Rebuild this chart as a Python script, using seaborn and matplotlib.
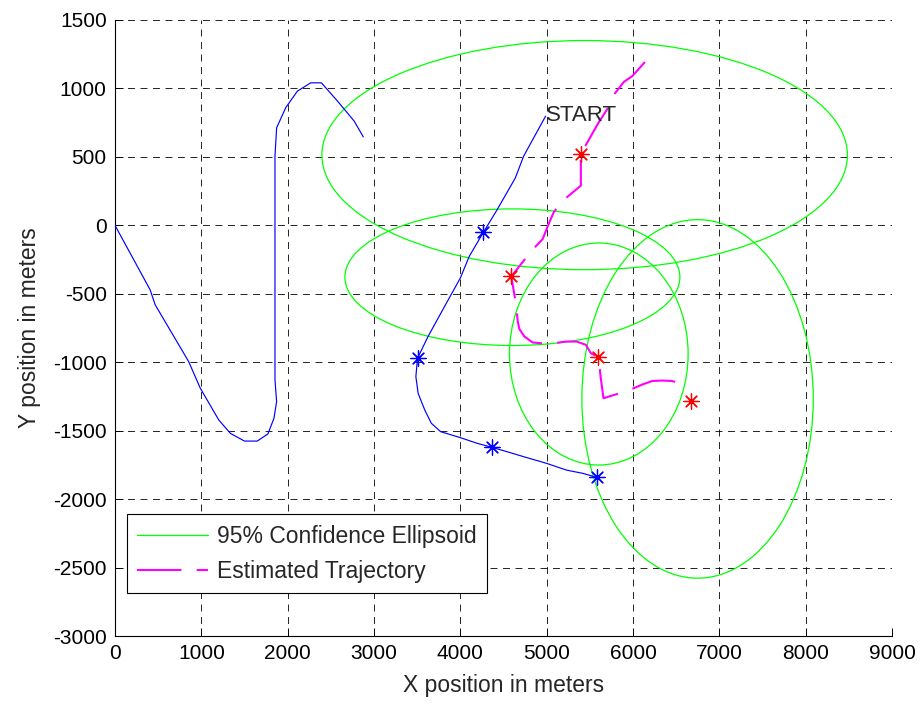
import matplotlib
matplotlib.use("Agg")
import matplotlib.pyplot as plt
import seaborn as sns
from matplotlib.patches import Ellipse
from matplotlib.lines import Line2D

# Observer track (m)
obs_x = [0, 407, 465, 853, 988, 1202, 1337, 1500, 1647, 1771, 1841, 1872,
         1853, 1853, 1872, 1977, 2112, 2267, 2391, 2578, 2771, 2876]
obs_y = [0, -471, -580, -995, -1190, -1422, -1520, -1576, -1576, -1524, -1410,
         -1288, -1129, 505, 712, 859, 980, 1041, 1041, 907, 761, 646]

# True target track (m), starting at START
tgt_x = [4988, 4733, 4637, 4427, 4267, 4103, 4000, 3817, 3626, 3504, 3485,
         3511, 3588, 3664, 3771, 4000, 4198, 4370, 4542, 4733, 5000, 5229,
         5420, 5580]
tgt_y = [798, 505, 346, 115, -51, -227, -385, -593, -812, -971, -1105, -1227,
         -1349, -1446, -1507, -1551, -1593, -1622, -1654, -1690, -1739, -1788,
         -1812, -1841]
# True positions at the fix times
tgt_fix_x = [4267, 3504, 4370, 5580]
tgt_fix_y = [-51, -971, -1622, -1841]

# Estimated target track (m)
est_x = [6138, 5992, 5896, 5781, 5704, 5600, 5435, 5393, 5396, 5396, 5192,
         5081, 5012, 4954, 4819, 4704, 4590, 4646, 4665, 4685, 4742, 4838,
         5031, 5223, 5346, 5454, 5512, 5600, 5627, 5658, 5946, 6115, 6223,
         6338, 6446, 6569, 6588]
est_y = [1193, 1090, 1049, 956, 851, 749, 566, 524, 456, 290, 183, 95, -7,
         -100, -190, -283, -373, -580, -702, -759, -812, -856, -866, -849,
         -849, -873, -934, -963, -1117, -1263, -1207, -1161, -1137, -1134,
         -1137, -1154, -1198]
# Estimated positions at the fix times
est_fix_x = [5393, 4590, 5600, 6673]
est_fix_y = [524, -373, -963, -1280]

# 95% confidence ellipses: centre and full axis lengths (m)
ell_cx = [5440, 4603, 5604, 6748]
ell_cy = [513, -379, -940, -1268]
ell_w = [6087, 3880, 2069, 2680]
ell_h = [1674, 998, 1622, 2619]

x_ticks = list(range(0, 9001, 1000))
y_ticks = list(range(-3000, 1501, 500))

sns.set_style("ticks")
plt.rcParams["font.family"] = ["Liberation Sans", "DejaVu Sans"]
plt.rcParams["axes.unicode_minus"] = False
plt.rcParams["lines.scale_dashes"] = False

W, H = 924, 705
fig = plt.figure(figsize=(W / 100, H / 100), dpi=100)
fig.patch.set_facecolor("white")
ax = fig.add_axes([115 / W, 1 - 636 / H, 777 / W, 616 / H])
ax.set_facecolor("white")

green = (0, 1, 0)
magenta = (1, 0, 1)
traj_dash = (32, 11)

for cx, cy, w, h in zip(ell_cx, ell_cy, ell_w, ell_h):
    ax.add_patch(Ellipse((cx, cy), w, h, fill=False, edgecolor=green,
                         linewidth=0.9, zorder=3))

sns.lineplot(x=est_x, y=est_y, sort=False, estimator=None, color=magenta,
             linewidth=1.5, ax=ax, zorder=4)
ax.lines[-1].set_dashes(traj_dash)

sns.lineplot(x=obs_x, y=obs_y, sort=False, estimator=None, color="blue",
             linewidth=0.85, ax=ax, zorder=4)
sns.lineplot(x=tgt_x, y=tgt_y, sort=False, estimator=None, color="blue",
             linewidth=0.85, ax=ax, zorder=4)

sns.scatterplot(x=est_fix_x, y=est_fix_y, marker=(8, 2, 0), s=120,
                color="red", linewidth=0.9, ax=ax, zorder=5)
sns.scatterplot(x=tgt_fix_x, y=tgt_fix_y, marker=(8, 2, 0), s=120,
                color="blue", linewidth=0.9, ax=ax, zorder=5)

ax.text(tgt_x[0], 800, "START", fontsize=16, ha="left", va="center", zorder=6)

ax.set_xlim(0, 9000)
ax.set_ylim(-3000, 1500)
ax.set_xticks(x_ticks)
ax.set_yticks(y_ticks)
ax.set_xticklabels([str(v) for v in x_ticks])
ax.set_yticklabels([str(v) for v in y_ticks])
ax.tick_params(direction="in", length=6, width=0.7, labelsize=15, pad=6,
               colors="black", top=False, right=False)

ax.grid(True, color="black", linestyle=(0, (5, 4)), linewidth=0.6)
ax.set_axisbelow(True)
for side in ("top", "right"):
    ax.spines[side].set_visible(False)
for side in ("left", "bottom"):
    ax.spines[side].set_color("black")
    ax.spines[side].set_linewidth(0.8)

ax.set_xlabel("X position in meters", fontsize=16.5, va="center")
ax.set_ylabel("Y position in meters", fontsize=16.5, va="center")
ax.xaxis.set_label_coords(0.5, -0.08)
ax.yaxis.set_label_coords(-0.11, 0.5)

handles = [
    Line2D([], [], color=green, linewidth=0.9),
    Line2D([], [], color=magenta, linewidth=1.5, dashes=traj_dash),
]
leg = ax.legend(handles, ["95% Confidence Ellipsoid", "Estimated Trajectory"],
                loc="lower left", bbox_to_anchor=(0.0154, 0.0698),
                borderaxespad=0, fontsize=16.5, frameon=True, fancybox=False,
                handlelength=3.1, handletextpad=0.4, borderpad=0.45,
                labelspacing=0.53)
leg.get_frame().set_edgecolor("black")
leg.get_frame().set_linewidth(0.8)
leg.get_frame().set_alpha(1)
leg.set_zorder(10)

fig.savefig("out.png", dpi=100, facecolor="white")
